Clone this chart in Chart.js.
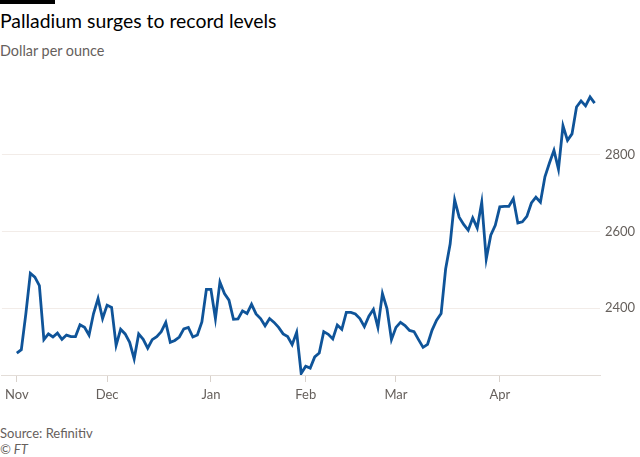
<!DOCTYPE html>
<html>
<head>
<meta charset="utf-8">
<script src="https://cdn.jsdelivr.net/npm/chart.js@4/dist/chart.umd.min.js"></script>
<style>
    body { margin: 0; background: #fff; }
    #wrap { position: relative; width: 640px; height: 457px; overflow: hidden; font-family: Lato, 'Open Sans', sans-serif; }
    .topbar { position: absolute; left: 0; top: 0; width: 55px; height: 4px; background: #000; }
    .title { position: absolute; left: 0; top: 9px; font-size: 19.4px; line-height: 24px; color: #000; white-space: nowrap; }
    .subtitle { position: absolute; left: 0; top: 42px; font-size: 14.4px; line-height: 18px; color: #66605c; white-space: nowrap; }
    .source { position: absolute; left: 0; top: 425px; font-size: 13px; line-height: 16px; color: #66605c; }
    .copy { position: absolute; left: 0; top: 441px; font-size: 13px; line-height: 16px; color: #66605c; font-style: italic; }
    #chartBox { position: absolute; left: 0; top: 70px; }
</style>
</head>
<body>
<div id="wrap">
    <div class="topbar"></div>
    <div class="title">Palladium surges to record levels</div>
    <div class="subtitle">Dollar per ounce</div>
    <canvas id="chartBox" width="640" height="340"></canvas>
    <div class="source">Source: Refinitiv</div>
    <div class="copy">© FT</div>
</div>
<script>
// Month tick labels and the index of the first trading day of each month
const months = ['Nov', 'Dec', 'Jan', 'Feb', 'Mar', 'Apr'];
const monthStart = [0, 20, 43, 64, 84, 107];
const yTicks = [2400, 2600, 2800];

// Daily palladium price, $/oz (Nov 2020 - Apr 2021)
const prices = [
    // Nov
    2283, 2292, 2385, 2491, 2481, 2459, 2318, 2333, 2325, 2335,
    2319, 2330, 2326, 2326, 2357, 2350, 2330, 2386, 2425, 2373,
    // Dec
    2408, 2402, 2303, 2345, 2333, 2311, 2268, 2333, 2319, 2296,
    2318, 2326, 2339, 2363, 2311, 2316, 2325, 2346, 2350, 2325,
    2330, 2364, 2449,
    // Jan
    2449, 2373, 2468, 2438, 2421, 2371, 2372, 2393, 2386, 2410,
    2385, 2373, 2354, 2373, 2363, 2350, 2333, 2326, 2305, 2337,
    2230,
    // Feb
    2249, 2244, 2273, 2283, 2339, 2332, 2320, 2356, 2345, 2389,
    2389, 2385, 2373, 2352, 2379, 2397, 2350, 2438, 2399, 2318,
    // Mar
    2350, 2363, 2355, 2342, 2339, 2318, 2298, 2306, 2343, 2369,
    2386, 2502, 2567, 2682, 2637, 2618, 2603, 2635, 2609, 2676,
    2528, 2590, 2616,
    // Apr
    2664, 2665, 2665, 2685, 2622, 2625, 2639, 2674, 2689, 2676,
    2742, 2778, 2811, 2762, 2875, 2837, 2854, 2924, 2940, 2927,
    2950, 2934
];

const tickFont = { family: "Lato, 'Open Sans', sans-serif", size: 13 };

const ctx = document.getElementById('chartBox').getContext('2d');
const chart = new Chart(ctx, {
    type: 'line',
    data: {
        datasets: [{
            data: prices.map((p, i) => ({ x: i, y: p })),
            borderColor: '#0f5499',
            borderWidth: 2.8,
            pointRadius: 0,
            tension: 0,
            fill: false
        }]
    },
    options: {
        responsive: false,
        animation: false,
        layout: { padding: { top: 10, left: 0, right: 0, bottom: 0 } },
        plugins: {
            legend: { display: false },
            tooltip: { enabled: false }
        },
        scales: {
            x: {
                type: 'linear',
                min: -3.3,
                max: 129.2,
                afterFit: function(scale) { scale.height = 35; },
                afterBuildTicks: function(scale) {
                    scale.ticks = monthStart.map(v => ({ value: v }));
                },
                grid: {
                    drawOnChartArea: false,
                    drawTicks: true,
                    tickLength: 7,
                    color: '#d9d2cc'
                },
                border: { display: true, color: '#e3ddd8', width: 1 },
                ticks: {
                    autoSkip: false,
                    maxRotation: 0,
                    padding: 5,
                    color: '#66605c',
                    font: tickFont,
                    callback: function(value) {
                        const k = monthStart.indexOf(value);
                        return k >= 0 ? months[k] : '';
                    }
                }
            },
            y: {
                position: 'right',
                min: 2226,
                max: 2987,
                afterFit: function(scale) { scale.width = 40; },
                afterBuildTicks: function(scale) {
                    scale.ticks = yTicks.map(v => ({ value: v }));
                },
                grid: {
                    drawTicks: false,
                    color: '#f2ece8'
                },
                border: { display: false },
                ticks: {
                    padding: 5,
                    color: '#66605c',
                    font: tickFont,
                    callback: function(value) {
                        return String(value);
                    }
                }
            }
        }
    }
});
</script>
</body>
</html>
